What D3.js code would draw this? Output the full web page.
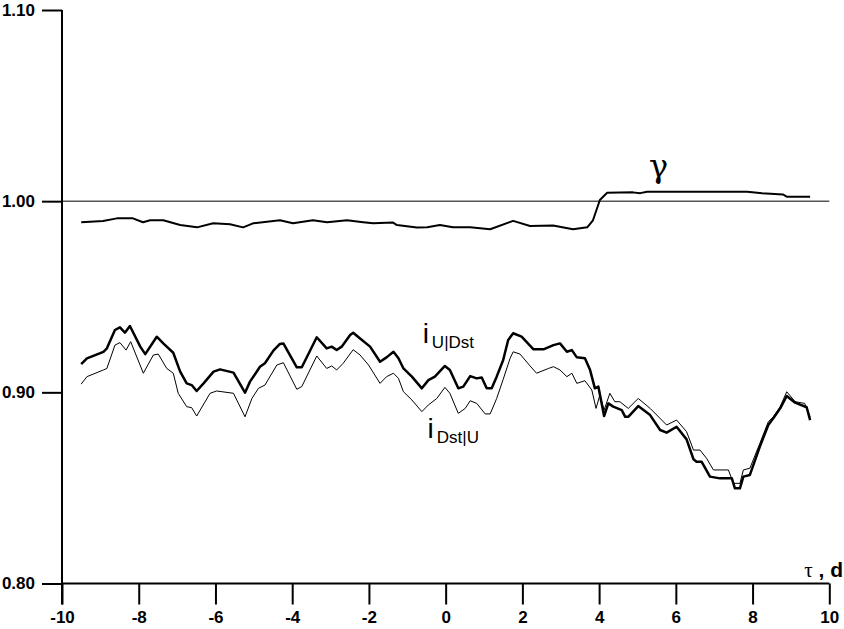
<!DOCTYPE html>
<html><head><meta charset="utf-8">
<script src="https://cdn.jsdelivr.net/npm/d3@7"></script>
<style>body{margin:0;background:#fff}svg{display:block}</style>
</head><body>
<svg id="c" width="844" height="629"></svg>
<script>
// ---- data ----
const xTicks = [-10,-8,-6,-4,-2,0,2,4,6,8,10];
const xTickLabels = ["-10","-8","-6","-4","-2","0","2","4","6","8","10"];
const yTicks = [0.80,0.90,1.00,1.10];
const yTickLabels = ["0.80","0.90","1.00","1.10"];
const refLevel = 1.00;

const gammaT = [-9.5,-8.93,-8.57,-8.15,-7.89,-7.70,-7.36,-6.92,-6.48,-6.06,-5.62,-5.28,-5.02,-4.32,-3.98,-3.46,-3.09,-2.57,-2.15,-1.89,-1.37,-1.27,-0.75,-0.48,-0.15,0.19,0.64,1.16,1.76,2.20,2.80,3.32,3.69,3.84,4.02,4.21,4.88,5.07,5.25,7.86,8.25,8.79,8.90,9.5];
const gammaV = [0.989,0.9896,0.991,0.991,0.989,0.990,0.990,0.9875,0.9863,0.9884,0.9879,0.9863,0.9884,0.990,0.9884,0.990,0.989,0.990,0.989,0.9884,0.9888,0.9875,0.9862,0.9863,0.9875,0.9863,0.9863,0.9853,0.9897,0.987,0.9873,0.9853,0.9863,0.990,1.0006,1.0044,1.0046,1.0042,1.0049,1.0049,1.0041,1.0035,1.0023,1.0023];

const iUT = [-9.5,-9.35,-8.92,-8.83,-8.62,-8.49,-8.36,-8.23,-7.96,-7.83,-7.53,-7.36,-7.10,-6.92,-6.75,-6.62,-6.49,-6.31,-6.05,-5.88,-5.53,-5.23,-5.10,-4.84,-4.71,-4.49,-4.32,-4.23,-3.88,-3.75,-3.36,-3.10,-2.97,-2.84,-2.71,-2.49,-2.41,-2.23,-1.97,-1.71,-1.54,-1.36,-1.23,-1.10,-0.88,-0.62,-0.45,-0.28,-0.02,0.11,0.33,0.46,0.64,0.81,0.94,1.07,1.20,1.33,1.50,1.63,1.76,1.98,2.29,2.55,2.81,2.98,3.16,3.29,3.42,3.63,3.76,3.89,3.98,4.13,4.24,4.37,4.59,4.68,4.76,5.02,5.33,5.59,5.76,6.02,6.28,6.46,6.54,6.67,6.89,7.15,7.46,7.54,7.67,7.76,7.93,8.19,8.41,8.54,8.72,8.89,9.11,9.41,9.5];
const iUV = [0.9148,0.9178,0.9212,0.923,0.9326,0.934,0.9312,0.9347,0.9239,0.920,0.9291,0.9256,0.9207,0.9108,0.9047,0.9038,0.9007,0.9047,0.9108,0.912,0.9103,0.8998,0.9056,0.9134,0.9152,0.9218,0.9253,0.9256,0.9131,0.9131,0.9288,0.923,0.9239,0.9221,0.9239,0.930,0.9312,0.9282,0.9239,0.916,0.9183,0.9212,0.9178,0.9125,0.9082,0.9021,0.9064,0.9082,0.9138,0.9117,0.9021,0.903,0.9085,0.9073,0.9078,0.9021,0.9021,0.9082,0.9169,0.9274,0.9309,0.9291,0.9225,0.9225,0.9247,0.9256,0.9212,0.9221,0.9183,0.9178,0.912,0.9021,0.903,0.8876,0.8942,0.8925,0.8907,0.8872,0.8872,0.8928,0.8881,0.8803,0.8789,0.882,0.8754,0.865,0.8637,0.8637,0.8559,0.855,0.855,0.8498,0.8498,0.8559,0.8568,0.8716,0.8829,0.8864,0.8916,0.8981,0.8946,0.8922,0.8855];

const iDT = [-9.5,-9.35,-8.92,-8.83,-8.62,-8.49,-8.33,-8.21,-7.88,-7.62,-7.49,-7.27,-7.10,-6.97,-6.75,-6.62,-6.49,-6.14,-5.97,-5.53,-5.23,-5.05,-4.88,-4.71,-4.40,-4.23,-3.88,-3.75,-3.36,-3.10,-2.97,-2.84,-2.67,-2.41,-2.23,-2.01,-1.71,-1.54,-1.36,-1.23,-1.10,-0.88,-0.62,-0.45,-0.23,-0.02,0.11,0.33,0.51,0.64,0.81,1.03,1.16,1.33,1.50,1.68,1.76,1.94,2.20,2.37,2.68,2.81,2.98,3.16,3.29,3.42,3.63,3.81,3.92,4.02,4.13,4.28,4.41,4.54,4.76,5.02,5.33,5.76,6.02,6.28,6.46,6.63,6.80,6.98,7.37,7.50,7.67,7.76,7.93,8.19,8.41,8.54,8.72,8.89,9.11,9.36,9.5];
const iDV = [0.9043,0.9082,0.9117,0.9125,0.9247,0.926,0.9221,0.9265,0.910,0.9195,0.920,0.9125,0.910,0.8995,0.8925,0.892,0.8876,0.8995,0.9007,0.8995,0.8872,0.8968,0.9021,0.9038,0.9143,0.9155,0.9016,0.903,0.919,0.9125,0.9138,0.9117,0.9152,0.9223,0.9195,0.9143,0.9047,0.9082,0.910,0.9073,0.9003,0.896,0.8899,0.8934,0.8968,0.9026,0.8995,0.889,0.8916,0.8956,0.8942,0.8887,0.8887,0.8968,0.9068,0.9178,0.9212,0.920,0.9138,0.910,0.9125,0.9134,0.9117,0.9082,0.910,0.9047,0.9061,0.9012,0.8916,0.8986,0.8907,0.8995,0.8951,0.8951,0.8916,0.8968,0.8916,0.8829,0.8855,0.8794,0.8698,0.8698,0.8655,0.8594,0.8594,0.8524,0.8524,0.8594,0.8603,0.8733,0.8846,0.8872,0.8925,0.9003,0.8951,0.8942,0.8872];

// ---- chart ----
const svg = d3.select("#c");
const x = d3.scaleLinear().domain([-10,10]).range([62,829.3]);
const y = d3.scaleLinear().domain([0.8,1.1]).range([583.5,10]);
const tickLen = 21;
const sans = "'Liberation Sans',Arial,sans-serif";

// axes
const xAxis = svg.append("g").attr("transform",`translate(0,${y(0.8)})`)
  .call(d3.axisBottom(x).tickValues(xTicks).tickSize(tickLen).tickPadding(6).tickFormat((d,i)=>xTickLabels[i]));
const yAxis = svg.append("g").attr("transform",`translate(${x(-10)},0)`)
  .call(d3.axisLeft(y).tickValues(yTicks).tickSize(20).tickPadding(7).tickFormat((d,i)=>yTickLabels[i]));
[xAxis,yAxis].forEach(g=>{
  g.select(".domain").remove();
  g.selectAll(".tick line").attr("stroke","#000").attr("stroke-width",2);
  g.selectAll("text").attr("fill","#000").style("font-family",sans)
    .style("font-weight","bold").style("font-size","17px");
});
// axis lines
svg.append("line").attr("x1",x(-10)).attr("x2",x(10)).attr("y1",y(0.8)).attr("y2",y(0.8))
  .attr("stroke","#000").attr("stroke-width",2);
svg.append("line").attr("x1",x(-10)).attr("x2",x(-10)).attr("y1",y(1.1)).attr("y2",y(0.8)+tickLen)
  .attr("stroke","#000").attr("stroke-width",2);
// reference line at 1.00
svg.append("line").attr("x1",x(-10)).attr("x2",x(10)).attr("y1",y(refLevel)).attr("y2",y(refLevel))
  .attr("stroke","#000").attr("stroke-width",1);

const line = d3.line().x(d=>x(d[0])).y(d=>y(d[1]));
function draw(T,V,w){
  svg.append("path").datum(T.map((t,i)=>[t,V[i]])).attr("d",line)
    .attr("fill","none").attr("stroke","#000").attr("stroke-width",w).attr("stroke-linejoin","round");
}
draw(iDT,iDV,1);
draw(iUT,iUV,2.5);
draw(gammaT,gammaV,2);

// labels
svg.append("text").attr("x",x(5.55)).attr("y",y(1.0125)).attr("text-anchor","middle")
  .style("font-family","'DejaVu Serif','Liberation Serif',serif").style("font-size","32px").text("γ");

function lab(t,v,sub){
  const tx = svg.append("text").attr("x",x(t)).attr("y",y(v)).style("font-family",sans);
  tx.append("tspan").style("font-size","28px").text("i");
  tx.append("tspan").attr("dx",3).attr("dy",5).style("font-size","17px").text(sub);
}
lab(-0.60,0.9258,"U|Dst");
lab(-0.47,0.8761,"Dst|U");

const td = svg.append("text").attr("x",843).attr("y",577).attr("text-anchor","end").style("font-family",sans);
td.append("tspan").style("font-size","21px").style("font-family","'Liberation Serif',serif").text("τ");
td.append("tspan").style("font-size","21px").style("font-weight","bold").text(" , d");
</script>
</body></html>
